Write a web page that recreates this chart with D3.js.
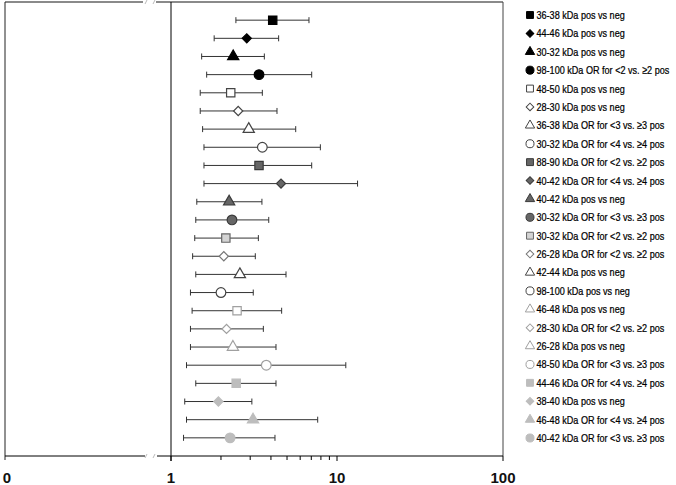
<!DOCTYPE html>
<html>
<head>
<meta charset="utf-8">
<script src="https://cdn.jsdelivr.net/npm/d3@7"></script>
<style>
  body { margin: 0; background: #fff; }
  svg { display: block; }
</style>
</head>
<body>
<script>
// rows from top to bottom
var rowLabels = [
  '36-38 kDa pos vs neg',
  '44-46 kDa pos vs neg',
  '30-32 kDa pos vs neg',
  '98-100 kDa OR for <2 vs. \u22652 pos',
  '48-50 kDa pos vs neg',
  '28-30 kDa pos vs neg',
  '36-38 kDa OR for <3 vs. \u22653 pos',
  '30-32 kDa OR for <4 vs. \u22654 pos',
  '88-90 kDa OR for <2 vs. \u22652 pos',
  '40-42 kDa OR for <4 vs. \u22654 pos',
  '40-42 kDa pos vs neg',
  '30-32 kDa OR for <3 vs. \u22653 pos',
  '30-32 kDa OR for <2 vs. \u22652 pos',
  '26-28 kDa OR for <2 vs. \u22652 pos',
  '42-44 kDa pos vs neg',
  '98-100 kDa pos vs neg',
  '46-48 kDa pos vs neg',
  '28-30 kDa OR for <2 vs. \u22652 pos',
  '26-28 kDa pos vs neg',
  '48-50 kDa OR for <3 vs. \u22653 pos',
  '44-46 kDa OR for <4 vs. \u22654 pos',
  '38-40 kDa pos vs neg',
  '46-48 kDa OR for <4 vs. \u22654 pos',
  '40-42 kDa OR for <3 vs. \u22653 pos'
];
var estimates = [4.10, 2.86, 2.37, 3.39, 2.29, 2.54, 2.94, 3.55, 3.39, 4.60, 2.24, 2.33,
                 2.14, 2.08, 2.60, 2.00, 2.50, 2.16, 2.36, 3.75, 2.47, 1.93, 3.12, 2.27];
var lower = [2.46, 1.82, 1.53, 1.64, 1.50, 1.50, 1.55, 1.58, 1.58, 1.58, 1.43, 1.41,
             1.39, 1.35, 1.41, 1.31, 1.34, 1.31, 1.31, 1.24, 1.41, 1.21, 1.24, 1.19];
var upper = [6.78, 4.45, 3.65, 7.04, 3.55, 4.35, 5.64, 7.94, 7.04, 13.3, 3.53, 3.88,
             3.36, 3.22, 4.93, 3.13, 4.64, 3.60, 4.29, 11.3, 4.29, 3.07, 7.65, 4.23];
var markerShapes = ['square', 'diamond', 'triangle', 'circle', 'square', 'diamond', 'triangle', 'circle',
                    'square', 'diamond', 'triangle', 'circle', 'square', 'diamond', 'triangle', 'circle',
                    'square', 'diamond', 'triangle', 'circle', 'square', 'diamond', 'triangle', 'circle'];
var legendShapes = ['square', 'diamond', 'triangle', 'circle', 'square', 'diamond', 'triangle', 'circle',
                    'square', 'diamond', 'triangle', 'circle', 'square', 'diamond', 'triangle', 'circle',
                    'triangle', 'diamond', 'triangle', 'circle', 'square', 'diamond', 'triangle', 'circle'];
var styleGroup = ['black', 'black', 'black', 'black', 'open', 'open', 'open', 'open',
                  'dark', 'dark', 'dark', 'dark', 'lightsq', 'openmid', 'open', 'open',
                  'openlight', 'openlight', 'openlight', 'openlight', 'light', 'light', 'light', 'light'];
var tickLabels = ['0', '1', '10', '100'];
var logTicks = [1, 10, 100];
var minorTicks = [2, 3, 4, 5, 6, 7, 8, 9];

(function () {
var styles = {
  black:     { fill: '#000', stroke: '#000' },
  open:      { fill: '#fff', stroke: '#444' },
  dark:      { fill: '#666', stroke: '#3a3a3a' },
  lightsq:   { fill: '#d4d4d4', stroke: '#666' },
  openmid:   { fill: '#fff', stroke: '#777' },
  openlight: { fill: '#fff', stroke: '#a0a0a0' },
  light:     { fill: '#bdbdbd', stroke: '#bdbdbd' }
};

var width = 676, height = 485;
var plotLeft = 5, plotRight = 503, plotTop = 2, plotBottom = 456;
var breakX = 150;

var x = d3.scaleLog().domain([1, 100]).range([171, plotRight]);
var y = d3.scalePoint().domain(d3.range(rowLabels.length)).range([plotTop, plotBottom]).padding(1);
var yLegend = d3.scalePoint().domain(d3.range(rowLabels.length)).range([15, 438]);

function symbolPath(shape, big) {
  var s = big ? 1.05 : 0.72;
  if (shape == 'square') return d3.symbol(d3.symbolSquare, 66 * s)();
  if (shape == 'diamond') return d3.symbol(d3.symbolSquare, 40 * s)();
  if (shape == 'triangle') return d3.symbol(d3.symbolTriangle, 52 * s)();
  return d3.symbol(d3.symbolCircle, 70 * s)();
}
function rot(shape) { return shape == 'diamond' ? ' rotate(45)' : ''; }

var svg = d3.select('body').append('svg')
  .attr('width', width)
  .attr('height', height);

// frame
svg.append('line').attr('x1', plotLeft).attr('x2', breakX - 7).attr('y1', plotTop).attr('y2', plotTop)
  .attr('stroke', '#8a8a8a').attr('stroke-width', 2);
svg.append('line').attr('x1', breakX + 6).attr('x2', plotRight).attr('y1', plotTop).attr('y2', plotTop)
  .attr('stroke', '#8a8a8a').attr('stroke-width', 2);
svg.append('line').attr('x1', plotLeft).attr('x2', plotLeft).attr('y1', plotTop).attr('y2', plotBottom + 4)
  .attr('stroke', '#222').attr('stroke-width', 1);
svg.append('line').attr('x1', plotRight).attr('x2', plotRight).attr('y1', plotTop).attr('y2', plotBottom)
  .attr('stroke', '#444').attr('stroke-width', 1);

// bottom axis with break
svg.append('line').attr('x1', plotLeft).attr('x2', breakX - 5).attr('y1', plotBottom).attr('y2', plotBottom)
  .attr('stroke', '#000');
svg.append('line').attr('x1', breakX + 7).attr('x2', plotRight).attr('y1', plotBottom).attr('y2', plotBottom)
  .attr('stroke', '#000');
[breakX - 4, breakX + 4].forEach(function (bx) {
  svg.append('line').attr('x1', bx - 1).attr('x2', bx + 1).attr('y1', plotBottom + 2).attr('y2', plotBottom - 2)
    .attr('stroke', '#bbb');
  svg.append('line').attr('x1', bx - 1).attr('x2', bx + 1).attr('y1', plotTop + 2).attr('y2', plotTop - 2)
    .attr('stroke', '#bbb');
});

// reference line at 1
svg.append('line').attr('x1', x(1)).attr('x2', x(1)).attr('y1', plotTop).attr('y2', plotBottom + 5)
  .attr('stroke', '#000');

// ticks
svg.selectAll('.major').data(logTicks).enter().append('line')
  .attr('x1', d => x(d)).attr('x2', d => x(d))
  .attr('y1', plotBottom).attr('y2', plotBottom + 5)
  .attr('stroke', '#000');
svg.selectAll('.minor').data(minorTicks).enter().append('line')
  .attr('x1', d => x(d)).attr('x2', d => x(d))
  .attr('y1', plotBottom).attr('y2', plotBottom + 4)
  .attr('stroke', '#000');

var tickPos = [plotLeft + 2].concat(logTicks.map(d => x(d)));
svg.selectAll('.tl').data(tickLabels).enter().append('text')
  .attr('x', (d, i) => tickPos[i])
  .attr('y', 483)
  .attr('text-anchor', 'middle')
  .attr('font-family', 'Liberation Sans, Arial, sans-serif')
  .attr('font-weight', 'bold')
  .attr('font-size', 15)
  .attr('fill', '#111')
  .text(d => d);

// error bars
var rows = svg.selectAll('.row').data(d3.range(rowLabels.length)).enter().append('g')
  .attr('class', 'row');
rows.append('line')
  .attr('x1', i => x(lower[i])).attr('x2', i => x(upper[i]))
  .attr('y1', i => y(i)).attr('y2', i => y(i))
  .attr('stroke', '#333');
rows.append('line')
  .attr('x1', i => x(lower[i])).attr('x2', i => x(lower[i]))
  .attr('y1', i => y(i) - 3).attr('y2', i => y(i) + 3)
  .attr('stroke', '#333');
rows.append('line')
  .attr('x1', i => x(upper[i])).attr('x2', i => x(upper[i]))
  .attr('y1', i => y(i) - 3).attr('y2', i => y(i) + 3)
  .attr('stroke', '#333');
rows.append('path')
  .attr('d', i => symbolPath(markerShapes[i], true))
  .attr('transform', i => 'translate(' + x(estimates[i]) + ',' + y(i) + ')' + rot(markerShapes[i]))
  .attr('fill', i => styles[styleGroup[i]].fill)
  .attr('stroke', i => styles[styleGroup[i]].stroke)
  .attr('stroke-width', 1.2);

// legend (narrow font imitated by a horizontal squeeze)
var legend = svg.selectAll('.leg').data(d3.range(rowLabels.length)).enter().append('g')
  .attr('transform', i => 'translate(530,' + yLegend(i) + ')');
legend.append('path')
  .attr('d', i => symbolPath(legendShapes[i], false))
  .attr('transform', i => 'translate(0,0)' + rot(legendShapes[i]))
  .attr('fill', i => styles[styleGroup[i]].fill)
  .attr('stroke', i => styles[styleGroup[i]].stroke)
  .attr('stroke-width', 1);
legend.append('text')
  .attr('transform', 'translate(6.5,4) scale(0.77,1)')
  .attr('font-family', 'Liberation Sans, Arial, sans-serif')
  .attr('font-size', 11.8)
  .attr('fill', '#000')
  .attr('stroke', '#000')
  .attr('stroke-width', 0.25)
  .text(i => rowLabels[i]);
})();
</script>
</body>
</html>
